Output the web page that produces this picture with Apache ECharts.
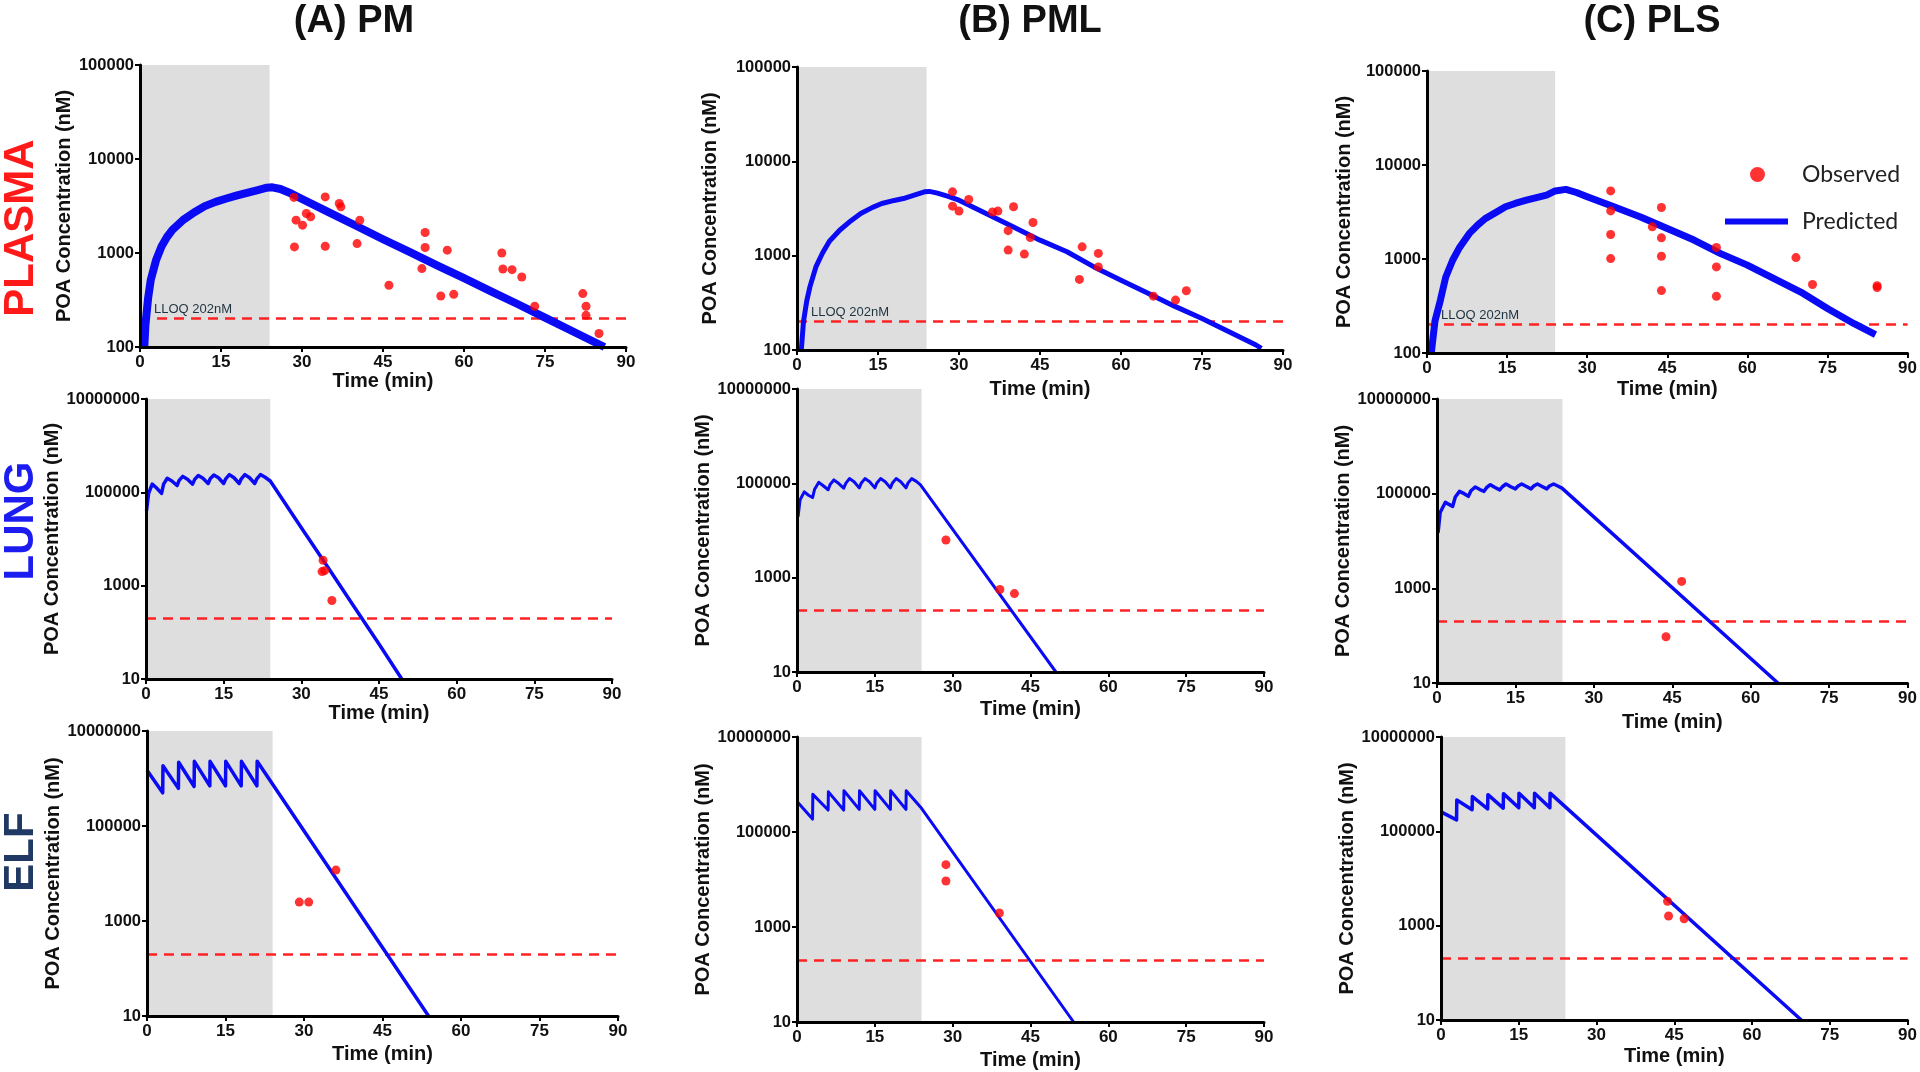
<!DOCTYPE html>
<html><head><meta charset="utf-8">
<script src="https://cdn.jsdelivr.net/npm/echarts@6/dist/echarts.min.js"></script>
<style>html,body{margin:0;padding:0;background:#fff}#c{width:1920px;height:1072px}</style>
</head><body><div id="c"></div>
<script>
// ---------- DATA ----------
const columnTitles = ['(A) PM', '(B) PML', '(C) PLS'];
const rowLabels = ['PLASMA', 'LUNG', 'ELF'];
const xTicks = [0, 15, 30, 45, 60, 75, 90];
const plasmaTicks = [100, 1000, 10000, 100000];
const tissueTicks = [10, 1000, 100000, 10000000];
const LLOQ = 202;
const infusionEnd = 24;

const pmPlasmaPred = [[0.8,100],[1.0,170],[1.5,330],[2,520],[3,850],[4,1180],[5,1480],[6,1760],[8,2250],[10,2700],[12,3150],[14,3500],[16,3800],[18,4100],[20,4400],[22,4700],[23.5,4950],[24.5,5000],[26,4800],[28,4300],[30,3750],[35,2700],[40,1950],[45,1400],[50,1020],[55,740],[60,540],[65,390],[70,285],[75,205],[80,148],[86,100]];
const pmPlasmaObs = [[28.6,1160],[28.9,2235],[30.1,1977],[28.5,3900],[30.8,2630],[31.6,2430],[34.3,3950],[34.3,1180],[36.9,3360],[37.2,3100],[40.2,1260],[40.7,2230],[46.1,454],[52.2,682],[52.8,1650],[52.8,1143],[55.7,349],[56.9,1072],[58.1,363],[67.0,1000],[67.2,676],[68.9,665],[70.7,556],[73.1,271],[82.0,370],[82.6,271],[82.6,217],[85.0,139]];

const pmlPlasmaPred = [[0.8,100],[1.2,200],[1.8,330],[2.4,470],[3.5,760],[4.7,1060],[6,1420],[7.9,1860],[10,2350],[11.8,2800],[14,3250],[15.7,3570],[18,3850],[19.7,4030],[22,4450],[23.6,4750],[24.5,4800],[26,4600],[28,4250],[30,3870],[35,2800],[40,2020],[45,1460],[50,1100],[55,760],[60,550],[65,400],[70,290],[75,216],[80,156],[85,113],[86,104]];
const pmlPlasmaObs = [[28.8,4750],[28.8,3350],[30.0,2970],[31.8,3940],[36.2,2900],[37.2,2970],[40.1,3300],[39.1,1840],[39.1,1145],[42.1,1040],[43.7,2250],[43.2,1560],[52.3,560],[52.8,1240],[55.8,1057],[55.8,760],[66.0,372],[70.1,338],[72.1,425]];

const plsPlasmaPred = [[0.8,100],[1.5,220],[2.5,364],[3.5,640],[4.8,970],[6,1300],[7.9,1860],[9.5,2300],[10.9,2690],[13,3150],[14.7,3590],[16.5,3900],[18.6,4220],[20.5,4500],[22.4,4790],[24,5300],[26,5500],[28,5100],[30,4600],[35,3590],[40,2800],[45,2110],[50,1590],[55,1140],[60,860],[65,620],[70,445],[75,297],[80,205],[84,157]];
const plsPlasmaObs = [[34.4,5300],[34.4,3250],[34.4,1820],[34.4,1010],[43.9,3530],[42.2,2200],[43.9,1680],[43.9,1070],[43.9,461],[54.2,1325],[54.2,824],[54.2,401],[69.1,1035],[72.2,535],[84.3,497],[84.3,520]];

const pmLungPred = [[0.1,40000],[0.5,95000],[1.2,150000],[2.0,125000],[3.0,95000],[3.4,150000],[4.1,200000],[5.0,175000],[6.0,140000],[6.4,180000],[7.1,220000],[8.0,190000],[9.0,150000],[9.4,190000],[10.1,230000],[11,200000],[12,155000],[12.4,195000],[13.1,235000],[14,205000],[15,155000],[15.4,195000],[16.1,240000],[17,205000],[18,155000],[18.4,195000],[19.1,240000],[20,205000],[21,155000],[21.4,195000],[22.1,240000],[23,210000],[24,175000],[30,17500],[35,2600],[40,380],[45,56],[49.4,10]];
const pmLungObs = [[34.2,3500],[34.0,2000],[34.5,2100],[35.9,480]];

const pmlLungPred = [[0.2,19500],[0.6,45000],[1.4,66000],[2.2,56000],[3.0,50000],[3.4,75000],[4.2,105000],[5.0,90000],[6.0,73000],[6.4,95000],[7.1,118000],[8,100000],[9.0,79000],[9.4,100000],[10.1,126000],[11,108000],[12,80000],[12.4,102000],[13.1,126000],[14,108000],[15,80000],[15.4,102000],[16.1,126000],[17,108000],[18,80000],[18.4,102000],[19.1,126000],[20,108000],[21,80000],[21.4,102000],[22.1,126000],[23,110000],[23.8,93000],[49.9,10]];
const pmlLungObs = [[28.7,6300],[39.1,560],[41.9,460]];

const plsLungPred = [[0.2,14800],[0.6,40000],[1.6,66000],[2.2,60000],[3.0,54000],[3.5,85000],[4.3,112000],[5.2,100000],[6.0,88000],[6.5,115000],[7.3,138000],[8.2,122000],[9.0,112000],[9.5,135000],[10.2,155000],[11.1,135000],[12.0,120000],[12.5,140000],[13.2,160000],[14.1,140000],[15,126000],[15.5,145000],[16.2,160000],[17.1,142000],[18,126000],[18.5,145000],[19.2,160000],[20.1,142000],[21,126000],[21.5,145000],[22.3,160000],[23.1,145000],[23.9,131000],[65.2,10]];
const plsLungObs = [[46.8,1400],[43.8,95]];

const pmElfPred = [[0,1500000],[3.0,500000],[3.05,1860000],[6.0,620000],[6.05,2200000],[9.0,680000],[9.05,2300000],[12.0,700000],[12.05,2300000],[15.0,700000],[15.05,2300000],[18.0,700000],[18.05,2300000],[21.0,700000],[21.05,2300000],[53.8,10]];
const pmElfObs = [[29.1,2500],[30.9,2500],[36.1,11800]];

const pmlElfPred = [[0,440000],[3.0,187000],[3.05,620000],[6.0,290000],[6.05,700000],[9.0,290000],[9.05,740000],[12.0,300000],[12.05,740000],[15.0,300000],[15.05,740000],[18.0,300000],[18.05,740000],[21.0,300000],[21.05,740000],[24,315000],[53.3,10]];
const pmlElfObs = [[28.7,20500],[28.7,9300],[39.0,1970]];

const plsElfPred = [[0,258000],[3.0,175000],[3.05,460000],[6.0,288000],[6.05,545000],[9.0,300000],[9.05,600000],[12.0,310000],[12.05,630000],[15.0,316000],[15.05,645000],[18.0,316000],[18.05,645000],[21.0,316000],[21.05,645000],[69.5,10]];
const plsElfObs = [[43.7,3300],[43.9,1600],[46.9,1400]];

// ---------- LAYOUT ----------
const FONT = '"Liberation Sans", Arial, sans-serif';
const BLUE = '#0a0af5';
const RED = '#ff0000';
const panels = [
  {pred: pmPlasmaPred,  obs: pmPlasmaObs,  kind: 'plasma', r: [140, 626, 65, 347],   lw: 8, xg: 20, yg: 66},
  {pred: pmlPlasmaPred, obs: pmlPlasmaObs, kind: 'plasma', r: [797, 1283, 67, 350],  lw: 5, xg: 29, yg: 77},
  {pred: plsPlasmaPred, obs: plsPlasmaObs, kind: 'plasma', r: [1427, 1908, 71, 353], lw: 7, xg: 26, yg: 73},
  {pred: pmLungPred,    obs: pmLungObs,    kind: 'tissue', r: [146, 612, 399, 679],  lw: 3.5, xg: 23, yg: 74},
  {pred: pmlLungPred,   obs: pmlLungObs,   kind: 'tissue', r: [797, 1264, 389, 672], lw: 3, xg: 27, yg: 77},
  {pred: plsLungPred,   obs: plsLungObs,   kind: 'tissue', r: [1437, 1908, 399, 683],lw: 3.5, xg: 29, yg: 68},
  {pred: pmElfPred,     obs: pmElfObs,     kind: 'tissue', r: [147, 618, 731, 1016], lw: 3.5, xg: 28, yg: 72},
  {pred: pmlElfPred,    obs: pmlElfObs,    kind: 'tissue', r: [797, 1264, 737, 1022],lw: 3, xg: 28, yg: 75},
  {pred: plsElfPred,    obs: plsElfObs,    kind: 'tissue', r: [1441, 1909, 737, 1020],lw: 3.5, xg: 26, yg: 74}
];

const grid = [], xAxis = [], yAxis = [], series = [];
panels.forEach((p, i) => {
  const [l, rr, t, b] = p.r;
  grid.push({left: l, top: t, width: rr - l, height: b - t, containLabel: false});
  xAxis.push({
    type: 'value', gridIndex: i, min: xTicks[0], max: xTicks[xTicks.length - 1], interval: 15, z: 5,
    name: 'Time (min)', nameLocation: 'middle', nameGap: p.xg,
    nameTextStyle: {fontFamily: FONT, fontWeight: 'bold', fontSize: 20, color: '#111'},
    axisLine: {show: true, onZero: false, lineStyle: {color: '#000', width: 3}},
    axisTick: {show: true, length: 5, lineStyle: {color: '#000', width: 2}},
    axisLabel: {fontFamily: FONT, fontWeight: 'bold', fontSize: 17, color: '#111', margin: 7},
    splitLine: {show: false}
  });
  const ticks = p.kind === 'plasma' ? plasmaTicks : tissueTicks;
  yAxis.push({
    type: 'log', logBase: 10, gridIndex: i, min: ticks[0], max: ticks[ticks.length - 1], z: 5,
    name: 'POA Concentration (nM)', nameLocation: 'middle', nameRotate: 90, nameGap: p.yg,
    nameTextStyle: {fontFamily: FONT, fontWeight: 'bold', fontSize: 20, color: '#111'},
    axisLine: {show: true, lineStyle: {color: '#000', width: 3}},
    axisTick: {show: true, length: 5, lineStyle: {color: '#000', width: 2}, customValues: ticks},
    axisLabel: {
      fontFamily: FONT, fontWeight: 'bold', fontSize: 16.5, color: '#111', margin: 6, customValues: ticks,
      formatter: v => { const n = Math.round(v); const hit = ticks.find(tk => Math.abs(tk - n) / tk < 1e-6); return hit ? String(hit) : ''; }
    },
    splitLine: {show: false}
  });
  series.push({
    type: 'line', name: 'Predicted', xAxisIndex: i, yAxisIndex: i, data: p.pred,
    showSymbol: false, symbol: 'none', animation: false, silent: true, z: 3,
    lineStyle: {color: BLUE, width: p.lw, join: 'round'}, itemStyle: {color: BLUE},
    markArea: {silent: true, z: 1, itemStyle: {color: '#dedede'}, data: [[{xAxis: 0}, {xAxis: infusionEnd}]]},
    markLine: {
      silent: true, z: 2, symbol: ['none', 'none'], animation: false,
      lineStyle: {color: '#ff2222', type: [10, 7], width: 2.5},
      label: p.kind === 'plasma'
        ? {show: true, position: 'insideStartTop', formatter: 'LLOQ 202nM', fontFamily: FONT, fontSize: 13, color: '#1d3340', distance: 2, padding: [0, 0, 0, 12]}
        : {show: false},
      data: [{yAxis: LLOQ}]
    }
  });
  series.push({
    type: 'scatter', name: 'Observed', xAxisIndex: i, yAxisIndex: i, data: p.obs,
    symbol: 'circle', symbolSize: 9, itemStyle: {color: RED}, z: 4, animation: false, silent: true
  });
});

const graphic = [];
const titleX = [354, 1030, 1652];
columnTitles.forEach((tt, i) => graphic.push({
  type: 'text', x: titleX[i], y: 22, z: 10,
  style: {text: tt, font: 'bold 38px ' + FONT, fill: '#111', align: 'center', verticalAlign: 'middle'}
}));
const rowY = [228, 521, 852];
const rowColor = ['#ff1a1a', '#1c1cf0', '#1f3864'];
rowLabels.forEach((tt, i) => graphic.push({
  type: 'text', x: 21, y: rowY[i], rotation: Math.PI / 2, z: 10,
  style: {text: tt, font: 'bold 42px ' + FONT, fill: rowColor[i], align: 'center', verticalAlign: 'middle'}
}));

const legendText = {fontFamily: 'Lato, "Open Sans", sans-serif', fontSize: 23, color: '#222'};
const option = {
  backgroundColor: '#fff',
  animation: false,
  grid, xAxis, yAxis, series, graphic,
  legend: [
    {data: [{name: 'Observed', icon: 'circle'}], left: 1750, top: 163, padding: 0, itemWidth: 15, itemHeight: 15,
     selectedMode: false, textStyle: Object.assign({padding: [0, 0, 0, 32]}, legendText)},
    {data: [{name: 'Predicted', icon: 'rect'}], left: 1725, top: 210, padding: 0, itemWidth: 63, itemHeight: 6,
     selectedMode: false, textStyle: Object.assign({padding: [0, 0, 0, 9]}, legendText)}
  ]
};
const chart = echarts.init(document.getElementById('c'), null, {renderer: 'canvas'});
chart.setOption(option);
</script></body></html>
